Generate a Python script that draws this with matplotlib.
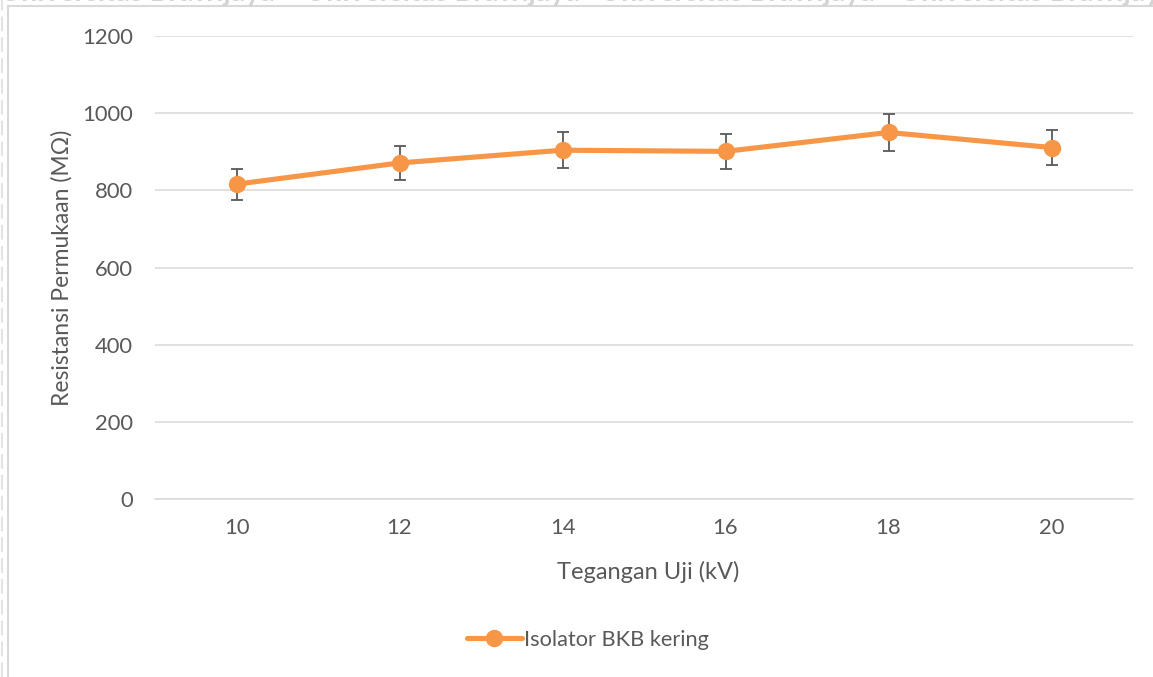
import matplotlib
matplotlib.use("Agg")
import matplotlib.pyplot as plt
from matplotlib.lines import Line2D

# Data
voltages = ["10", "12", "14", "16", "18", "20"]
resistance = [816, 871, 904, 901, 950, 911]
resistance_err = [40, 44, 46, 45, 48, 45]
y_ticks = [0, 200, 400, 600, 800, 1000, 1200]
series_name = "Isolator BKB kering"
x_title = "Tegangan Uji (kV)"
y_title = "Resistansi Permukaan (MΩ)"
watermark = "Universitas Brawijaya"

W, H, DPI = 1153, 677, 100
TEXT = "#595959"
GRID = "#d9d9d9"
ORANGE = "#f79646"

plt.rcParams["font.family"] = ["Lato", "DejaVu Sans"]

fig = plt.figure(figsize=(W / DPI, H / DPI), dpi=DPI)
fig.patch.set_facecolor("white")

# Plot area in pixel terms
left, right, top, bottom = 155, 1133, 36, 499
ax = fig.add_axes([left / W, 1 - bottom / H, (right - left) / W, (bottom - top) / H])

x = list(range(len(voltages)))
ax.errorbar(x, resistance, yerr=resistance_err, fmt="none", ecolor="#595959",
            elinewidth=1.3, capsize=4.3, capthick=1.3, zorder=3)
ax.plot(x, resistance, color=ORANGE, linewidth=3.7, marker="o",
        markersize=11.5, markerfacecolor=ORANGE, markeredgecolor=ORANGE,
        solid_capstyle="round", zorder=4, label=series_name)

ax.set_xlim(-0.5, len(voltages) - 0.5)
ax.set_ylim(0, 1200)
ax.set_yticks(y_ticks)
ax.set_xticks(x)
ax.set_xticklabels(voltages)
ax.yaxis.grid(True, color=GRID, linewidth=1.1)
ax.set_axisbelow(True)
for s in ["top", "right", "left"]:
    ax.spines[s].set_visible(False)
ax.spines["bottom"].set_color(GRID)
ax.spines["bottom"].set_linewidth(1.1)
ax.tick_params(axis="both", length=0, labelsize=15.8, colors=TEXT)
ax.tick_params(axis="x", pad=14)
ax.tick_params(axis="y", pad=16)

fig.text(648 / W, 1 - 572 / H, x_title, ha="center", va="center",
         fontsize=17, color=TEXT)
fig.text(62 / W, 1 - 268 / H, y_title, ha="center", va="center",
         rotation=90, fontsize=16.5, color=TEXT)

# Legend below the axes
leg = fig.legend(loc="center", bbox_to_anchor=(588 / W, 1 - 640 / H),
                 frameon=False, fontsize=15.7, handlelength=2.5,
                 handletextpad=0.1, labelcolor=TEXT)

# Chart frame and page details around it
fig.add_artist(Line2D([8 / W, 1], [1 - 6 / H, 1 - 6 / H], transform=fig.transFigure,
                      color=GRID, linewidth=1.5))
fig.add_artist(Line2D([8 / W, 8 / W], [0, 1 - 6 / H], transform=fig.transFigure,
                      color=GRID, linewidth=1.5))
fig.add_artist(Line2D([2 / W, 2 / W], [0, 1], transform=fig.transFigure,
                      color="#e3e3e3", linewidth=1.5, linestyle=(0, (7, 3))))

# Header watermark, clipped by the top edge of the page
for xpos in [0, 305, 600, 900]:
    fig.text(xpos / W, 1 + 7 / H, watermark, ha="left", va="center",
             fontsize=20.5, fontweight="bold", color="#d3d3d3")

fig.savefig("out.png", dpi=DPI)
